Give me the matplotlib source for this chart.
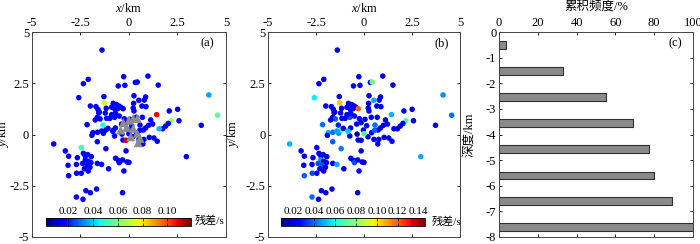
import numpy as np
import matplotlib
matplotlib.use('Agg')
import matplotlib.pyplot as plt

plt.rcParams['font.family'] = ['Liberation Serif', 'Noto Sans CJK SC']
plt.rcParams['font.size'] = 9
plt.rcParams['axes.unicode_minus'] = False
plt.rcParams['mathtext.fontset'] = 'custom'
plt.rcParams['mathtext.it'] = 'Liberation Serif:italic'
plt.rcParams['mathtext.rm'] = 'Liberation Serif'

# %% event locations (km) and travel-time residuals (s), (a) before / (b) after
ev_x = [-1.39, -2.10, -2.35, -0.27, 0.98, 0.33, 0.43, -0.21, -0.55, 1.51,
        -2.59, -1.29, -1.27, 0.26, 0.86, 0.79, -1.99, -1.70, -1.60, -1.56,
        -1.17, -1.22, -0.81, -0.64, -0.52, -0.89, -0.72, -0.58, -0.43, 0.24,
        0.22, 0.67, 0.88, 0.26, 1.43, 2.08, 2.51, 4.12, 4.57, 3.73,
        2.96, 2.18, 2.58, 2.03, 1.89, 1.74, 1.56, 1.12, 1.22, 1.01,
        0.86, 0.74, 0.69, 0.38, 0.05, -0.24, -0.15, -1.53, -1.63, -1.49,
        -1.74, -2.16, -1.34, -1.15, -0.98, -0.74, -0.50, -0.89, -0.69, -1.86,
        -1.91, -1.62, -1.63, -1.32, -1.19, -1.08, -1.41, -0.82, -0.70, -0.31,
        -0.15, 0.21, 0.52, 0.77, 0.72, 1.05, 1.29, 1.46, -1.19, -0.74,
        -3.88, -3.28, -2.46, -3.11, -2.66, -3.14, -3.11, -2.71, -2.70, -2.46,
        -2.35, -2.25, -2.13, -2.25, -2.10, -2.15, -1.96, -2.01, -2.10, -2.30,
        -2.39, -1.94, -1.63, -1.41, -1.05, -0.69, -0.55, -0.50, -0.33, -0.15,
        -0.26, -0.10, 0.00, -2.22, -1.99, -1.67, -2.71, -2.37, -0.33, -0.38,
        -0.03, 0.57, 0.40, 0.14, -0.30, 0.51, 0.00, -0.36, -0.83, 0.55]
ev_y = [4.12, 2.69, 2.48, 2.82, 2.85, 2.54, 2.56, 2.40, 2.37, 2.41,
        1.80, 1.85, 1.54, 1.89, 1.83, 1.68, 1.39, 1.36, 1.23, 1.06,
        1.28, 1.05, 1.52, 1.46, 1.39, 1.33, 1.23, 1.26, 1.33, 1.52,
        1.29, 1.39, 1.36, 1.15, 0.97, 1.15, 1.23, 1.93, 0.94, 0.45,
        -1.08, 0.67, 0.67, 0.54, 0.41, 0.28, 0.28, 0.71, 0.51, 0.45,
        0.32, 0.22, 0.84, 0.84, 0.74, 0.77, 0.58, 1.10, 0.84, 0.76,
        0.71, 0.48, 0.46, 0.79, 0.79, 0.84, 0.90, 0.97, 1.03, 0.09,
        -0.04, 0.11, -0.35, 0.06, 0.22, 0.30, 0.17, 0.19, 0.32, -0.27,
        -0.28, -0.11, -0.24, -0.24, -0.46, -0.14, -0.17, -0.33, -0.69, -0.07,
        -0.46, -0.80, -0.64, -1.06, -1.13, -1.50, -2.01, -1.46, -1.89, -1.89,
        -0.92, -1.05, -0.98, -1.24, -1.31, -1.50, -1.37, -1.60, -1.78, -1.67,
        -1.41, -1.08, -1.41, -1.46, -1.67, -1.16, -1.26, -1.37, -1.24, -0.80,
        -1.78, -1.34, -1.36, -2.74, -2.84, -2.66, -3.05, -3.16, -2.84, 0.51,
        0.22, 0.46, 0.09, 0.43, 1.26, 1.67, 0.04, 0.02, 0.16, 0.20]
res_a = [0.015, 0.014, 0.016, 0.015, 0.014, 0.016, 0.015, 0.015, 0.015, 0.015,
         0.015, 0.015, 0.072, 0.015, 0.015, 0.016, 0.015, 0.015, 0.015, 0.015,
         0.015, 0.015, 0.016, 0.015, 0.015, 0.015, 0.016, 0.015, 0.015, 0.015,
         0.015, 0.015, 0.015, 0.015, 0.108, 0.015, 0.015, 0.035, 0.055, 0.015,
         0.015, 0.065, 0.015, 0.015, 0.015, 0.015, 0.038, 0.015, 0.015, 0.015,
         0.015, 0.015, 0.015, 0.015, 0.015, 0.015, 0.015, 0.015, 0.015, 0.015,
         0.015, 0.015, 0.048, 0.015, 0.015, 0.015, 0.015, 0.015, 0.015, 0.015,
         0.015, 0.015, 0.015, 0.015, 0.015, 0.015, 0.015, 0.015, 0.015, 0.015,
         0.110, 0.015, 0.015, 0.015, 0.015, 0.015, 0.015, 0.015, 0.015, 0.015,
         0.015, 0.015, 0.052, 0.015, 0.015, 0.015, 0.015, 0.015, 0.015, 0.015,
         0.015, 0.015, 0.015, 0.015, 0.015, 0.015, 0.015, 0.015, 0.015, 0.015,
         0.015, 0.015, 0.015, 0.015, 0.015, 0.015, 0.015, 0.015, 0.015, 0.015,
         0.015, 0.015, 0.015, 0.015, 0.015, 0.015, 0.015, 0.015, 0.015, 0.015,
         0.015, 0.015, 0.015, 0.015, 0.015, 0.015, 0.015, 0.015, 0.015, 0.015]
res_b = [0.022, 0.020, 0.022, 0.020, 0.022, 0.022, 0.075, 0.022, 0.020, 0.020,
         0.058, 0.020, 0.105, 0.020, 0.020, 0.022, 0.020, 0.022, 0.020, 0.140,
         0.020, 0.022, 0.022, 0.020, 0.022, 0.020, 0.022, 0.020, 0.022, 0.020,
         0.020, 0.022, 0.020, 0.022, 0.050, 0.022, 0.020, 0.045, 0.040, 0.022,
         0.048, 0.068, 0.020, 0.022, 0.020, 0.022, 0.024, 0.020, 0.022, 0.020,
         0.022, 0.020, 0.022, 0.020, 0.022, 0.022, 0.020, 0.020, 0.022, 0.038,
         0.022, 0.040, 0.030, 0.022, 0.020, 0.035, 0.022, 0.020, 0.022, 0.050,
         0.022, 0.040, 0.038, 0.045, 0.065, 0.020, 0.048, 0.050, 0.022, 0.022,
         0.020, 0.022, 0.020, 0.022, 0.020, 0.022, 0.020, 0.022, 0.042, 0.020,
         0.050, 0.022, 0.022, 0.022, 0.020, 0.022, 0.038, 0.022, 0.036, 0.022,
         0.020, 0.022, 0.020, 0.045, 0.010, 0.038, 0.022, 0.022, 0.020, 0.022,
         0.036, 0.022, 0.022, 0.048, 0.020, 0.022, 0.020, 0.036, 0.022, 0.020,
         0.022, 0.022, 0.020, 0.022, 0.020, 0.022, 0.040, 0.022, 0.020, 0.022,
         0.022, 0.040, 0.020, 0.022, 0.120, 0.048, 0.068, 0.010, 0.052, 0.038]

# stations (gray triangles, panel a)
sta_x = [-0.29, 0.00, 0.22, 0.43, -0.43, -0.12, 0.22, 0.43, 0.48, 0.57, 0.09]
sta_y = [0.59, 0.70, 0.79, 0.79, 0.22, 0.35, 0.30, 0.06, -0.40, -0.19, -0.11]

# cumulative frequency by depth (panel c)
depth_c = [-0.51, -1.53, -2.54, -3.56, -4.58, -5.60, -6.60, -7.61]
cum_freq = [3.5, 33, 55, 69, 77.5, 80, 89, 100]

cbar_a_ticks = [0.02, 0.04, 0.06, 0.08, 0.10]
cbar_b_ticks = [0.02, 0.04, 0.06, 0.08, 0.10, 0.12, 0.14]

# %%
fig = plt.figure(figsize=(7, 2.44), dpi=100)
ax_a = fig.add_axes([0.0457, 0.0287, 0.277, 0.840])
ax_b = fig.add_axes([0.383, 0.0287, 0.274, 0.840])
ax_c = fig.add_axes([0.713, 0.0287, 0.277, 0.840])


def style_map(ax, tag, ylab_x):
    ax.set_xlim(-5, 5)
    ax.set_ylim(-5, 5)
    ax.set_xticks([-5, -2.5, 0, 2.5, 5])
    ax.set_yticks([-5, -2.5, 0, 2.5, 5])
    ax.set_xticklabels(['-5', '-2.5', '0', '2.5', '5'])
    ax.set_yticklabels(['-5', '-2.5', '0', '2.5', '5'])
    ax.xaxis.set_ticks_position('both')
    ax.yaxis.set_ticks_position('both')
    ax.xaxis.set_label_position('top')
    ax.tick_params(direction='in', length=2.5, width=0.6, pad=2,
                   labeltop=True, labelbottom=False)
    ax.set_xlabel(r'$x$/km')
    ax.set_ylabel(r'$y$/km')
    ax.xaxis.set_label_coords(0.5, 1.10)
    ax.yaxis.set_label_coords(ylab_x, 0.5)
    for sp in ax.spines.values():
        sp.set_linewidth(0.7)
        sp.set_color('#444444')
    ax.text(0.905, 0.945, tag, transform=ax.transAxes, ha='center', va='center')


# (a)
sc_a = ax_a.scatter(ev_x, ev_y, c=res_a, cmap='jet', vmin=0.002, vmax=0.119,
                    s=16, edgecolors='none', zorder=2)
ax_a.scatter(sta_x, sta_y, marker='^', s=42, c='#8c8c8c', edgecolors='none', zorder=3)
style_map(ax_a, '(a)', -0.11)

# (b)
sc_b = ax_b.scatter(ev_x, ev_y, c=res_b, cmap='jet', vmin=0.008, vmax=0.146,
                    s=16, edgecolors='none', zorder=2)
style_map(ax_b, '(b)', -0.14)

# colorbars
cax_a = fig.add_axes([0.0657, 0.074, 0.207, 0.033])
cb_a = fig.colorbar(sc_a, cax=cax_a, orientation='horizontal', ticks=cbar_a_ticks)
cb_a.ax.set_xticklabels(['%.2f' % t for t in cbar_a_ticks])
cax_b = fig.add_axes([0.401, 0.074, 0.206, 0.033])
cb_b = fig.colorbar(sc_b, cax=cax_b, orientation='horizontal', ticks=cbar_b_ticks)
cb_b.ax.set_xticklabels(['%.2f' % t for t in cbar_b_ticks])
for cb in (cb_a, cb_b):
    cb.ax.xaxis.set_ticks_position('both')
    cb.ax.tick_params(direction='in', length=2, width=0.5, pad=1.5,
                      labeltop=True, labelbottom=False, labelsize=8)
    cb.outline.set_linewidth(0.6)
fig.text(0.278, 0.094, '残差/s', ha='left', va='center', fontsize=8)
fig.text(0.617, 0.090, '残差/s', ha='left', va='center', fontsize=8)

# (c)
ax_c.barh(depth_c, cum_freq, height=0.31, color='#8a8a8a', edgecolor='#303030',
          linewidth=0.8, zorder=2)
ax_c.set_xlim(0, 100)
ax_c.set_ylim(-8, 0)
ax_c.set_xticks([0, 20, 40, 60, 80, 100])
ax_c.set_yticks([0, -1, -2, -3, -4, -5, -6, -7, -8])
ax_c.set_yticklabels(['0', '-1', '-2', '-3', '-4', '-5', '-6', '-7', '-8'])
ax_c.xaxis.set_ticks_position('both')
ax_c.yaxis.set_ticks_position('both')
ax_c.xaxis.set_label_position('top')
ax_c.tick_params(direction='in', length=2.5, width=0.6, pad=2,
                 labeltop=True, labelbottom=False)
ax_c.set_xlabel('累积频度/%')
ax_c.set_ylabel('深度/km')
ax_c.xaxis.set_label_coords(0.5, 1.108)
ax_c.yaxis.set_label_coords(-0.122, 0.5)
for sp in ax_c.spines.values():
    sp.set_linewidth(0.7)
    sp.set_color('#444444')
ax_c.text(0.907, 0.945, '(c)', transform=ax_c.transAxes, ha='center', va='center')

fig.savefig('out.png', dpi=100)
